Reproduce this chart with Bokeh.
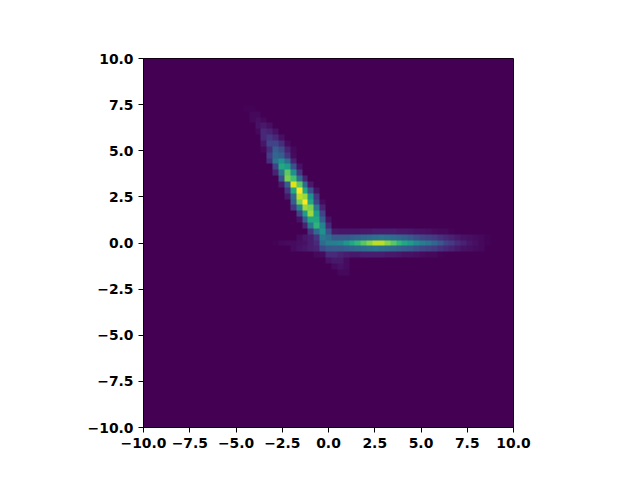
from bokeh.plotting import figure
from bokeh.models import LinearColorMapper, FixedTicker, Range1d
from bokeh.palettes import Viridis256
from bokeh.embed import file_html
from bokeh.resources import INLINE
import numpy as np

n_bins = 63
x_low, x_high = -10.0, 10.0
tick_values = [-10.0, -7.5, -5.0, -2.5, 0.0, 2.5, 5.0, 7.5, 10.0]
tick_labels = ["\u221210.0", "\u22127.5", "\u22125.0", "\u22122.5", "0.0", "2.5", "5.0", "7.5", "10.0"]

# histogram density, row index from the top: (first column, values)
upper_arm = {
    8: (17, [.01, .01]),
    9: (18, [.02, .02]),
    10: (18, [.02, .04, .02]),
    11: (19, [.05, .07, .04]),
    12: (19, [.02, .11, .09, .05]),
    13: (20, [.11, .16, .11, .04]),
    14: (20, [.06, .20, .20, .13, .03]),
    15: (20, [.02, .13, .30, .23, .09, .02]),
    16: (21, [.18, .33, .30, .15, .03]),
    17: (21, [.13, .38, .50, .35, .10]),
    18: (22, [.20, .60, .55, .25, .05]),
    19: (22, [.10, .40, .75, .50, .15]),
    20: (23, [.25, .80, .70, .35, .10]),
    21: (23, [.07, .30, .95, .75, .35, .07]),
    22: (24, [.15, .60, 1.0, .60, .25, .05]),
    23: (24, [.07, .35, .90, .85, .50, .15]),
    24: (25, [.30, .80, 1.0, .60, .20, .03]),
    25: (25, [.15, .45, .85, .80, .40, .10]),
    26: (26, [.20, .55, .85, .55, .20]),
    27: (26, [.05, .30, .60, .60, .30, .05]),
    28: (27, [.10, .40, .65, .45, .12]),
    29: (28, [.15, .35, .50, .25, .07, .06, .06, .06, .06, .07, .07, .08, .08, .08, .08, .07, .07, .06, .05, .05, .04, .03, .02, .02, .01]),
}
centre_rows = {
    30: (26, [.03, .06, .08, .15, .40, .36, .28, .28, .28, .30, .32, .33, .35, .37, .38, .37, .35, .33, .31, .27, .24, .21, .19, .17, .14, .11, .09, .07, .05, .04, .03, .02, .01]),
    31: (22, [.01, .02, .03, .03, .04, .05, .08, .12, .35, .42, .43, .45, .52, .60, .66, .74, .82, .90, .90, .82, .74, .66, .60, .55, .48, .42, .38, .33, .27, .20, .17, .12, .09, .06, .04, .02, .01]),
    32: (25, [.03, .05, .06, .08, .10, .22, .27, .28, .28, .30, .32, .33, .35, .37, .38, .37, .35, .33, .31, .29, .27, .24, .21, .19, .17, .14, .11, .09, .07, .05, .04, .03, .02, .01][:-1]),
}
lower_arm = {
    33: (29, [.02, .03, .12, .12, .10, .08, .07, .07, .08, .08, .08, .08, .07, .07, .06, .05, .05, .04, .03, .02, .02, .01]),
    34: (31, [.05, .07, .07, .03]),
    35: (32, [.03, .05, .03]),
    36: (33, [.02, .02]),
}

density = np.zeros((n_bins, n_bins))
for rows in (upper_arm, centre_rows, lower_arm):
    for row, (first, values) in rows.items():
        density[row, first:first + len(values)] = values

p = figure(width=624, height=464, output_backend="svg", toolbar_location=None,
           x_range=Range1d(x_low, x_high), y_range=Range1d(x_low, x_high),
           background_fill_color="white", border_fill_color="white")
p.frame_width = 370
p.frame_height = 369
p.min_border_left = 143
p.min_border_right = 111
p.min_border_top = 58
p.min_border_bottom = 37

mapper = LinearColorMapper(palette=Viridis256, low=0, high=1)
p.image(image=[density[::-1]], x=x_low, y=x_low, dw=x_high - x_low, dh=x_high - x_low, color_mapper=mapper)

p.grid.visible = False
p.outline_line_color = "black"
p.outline_line_width = 1
for ax in (p.xaxis[0], p.yaxis[0]):
    ax.ticker = FixedTicker(ticks=tick_values)
    ax.major_label_overrides = dict(zip(tick_values, tick_labels))
    ax.major_label_text_font = "DejaVu Sans"
    ax.major_label_text_font_style = "bold"
    ax.major_label_text_font_size = "13.9px"
    ax.major_label_text_color = "black"
    ax.major_tick_out = 5
    ax.major_tick_in = 0
    ax.minor_tick_line_color = None
    ax.axis_line_color = "black"
    ax.major_tick_line_color = "black"
    ax.major_label_standoff = 5

open("out.html", "w").write(file_html(p, INLINE))
